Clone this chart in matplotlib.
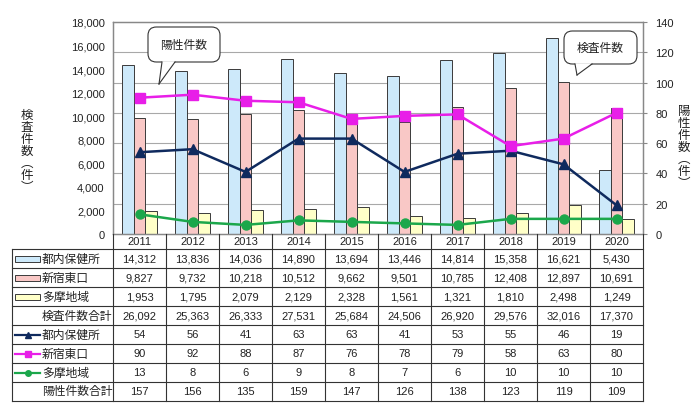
import numpy as np
import matplotlib.pyplot as plt
from matplotlib.patches import FancyBboxPatch, Polygon, Rectangle
from matplotlib.lines import Line2D
from matplotlib.ticker import FuncFormatter

plt.rcParams['font.family'] = ['Liberation Sans', 'Noto Sans CJK JP']

years = ['2011', '2012', '2013', '2014', '2015', '2016', '2017', '2018', '2019', '2020']

# 検査件数
tests_tonai = [14312, 13836, 14036, 14890, 13694, 13446, 14814, 15358, 16621, 5430]
tests_shinjuku = [9827, 9732, 10218, 10512, 9662, 9501, 10785, 12408, 12897, 10691]
tests_tama = [1953, 1795, 2079, 2129, 2328, 1561, 1321, 1810, 2498, 1249]
tests_total = [26092, 25363, 26333, 27531, 25684, 24506, 26920, 29576, 32016, 17370]

# 陽性件数
pos_tonai = [54, 56, 41, 63, 63, 41, 53, 55, 46, 19]
pos_shinjuku = [90, 92, 88, 87, 76, 78, 79, 58, 63, 80]
pos_tama = [13, 8, 6, 9, 8, 7, 6, 10, 10, 10]
pos_total = [157, 156, 135, 159, 147, 126, 138, 123, 119, 109]

c_blue = '#cde9fa'
c_pink = '#f9c8c6'
c_yellow = '#ffffc8'
c_navy = '#0f2a5e'
c_mag = '#e81ee8'
c_green = '#1ba74b'
edge = '#3a3a3a'

W, H = 700, 410


def fx(x):
    return x / W


def fy(y):
    return 1 - y / H


fig = plt.figure(figsize=(7, 4.1), dpi=100)
ax = fig.add_axes([fx(113), fy(235), 530 / W, 212 / H])
ax2 = ax.twinx()

x = np.arange(len(years))
bw = 0.22
ax.bar(x - bw, tests_tonai, bw, color=c_blue, edgecolor=edge, linewidth=0.7, zorder=2)
ax.bar(x, tests_shinjuku, bw, color=c_pink, edgecolor=edge, linewidth=0.7, zorder=2)
ax.bar(x + bw, tests_tama, bw, color=c_yellow, edgecolor=edge, linewidth=0.7, zorder=2)

ax.set_xlim(-0.5, len(years) - 0.5)
ax.set_ylim(0, 18000)
ax.set_yticks(range(0, 18001, 2000))
ax.yaxis.set_major_formatter(FuncFormatter(lambda v, p: f'{int(v):,}'))
ax.set_xticks([])
ax.tick_params(axis='y', labelsize=8, length=0, pad=6, colors='#222222')

ax2.plot(x, pos_tonai, color=c_navy, lw=1.8, marker='^', ms=6.5)
ax2.plot(x, pos_shinjuku, color=c_mag, lw=1.8, marker='s', ms=6.5)
ax2.plot(x, pos_tama, color=c_green, lw=1.8, marker='o', ms=6.5)
ax2.set_ylim(0, 140)
ax2.set_yticks(range(0, 141, 20))
ax2.tick_params(axis='y', labelsize=8, length=3, pad=6, color='#888888', labelcolor='#222222')

# gridlines follow the right axis, behind the bars
for v in range(20, 140, 20):
    ax.axhline(v * 18000 / 140, color='#a8a8a8', lw=0.8, zorder=0)

for a in (ax, ax2):
    for s in a.spines.values():
        s.set_color('#888888')
        s.set_linewidth(0.9)

# axis titles (vertical)
fig.text(fx(27), fy(152), '検\n査\n件\n数\n︵\n件\n︶', ha='center', va='center',
         fontsize=9, linespacing=1.0, color='#222222')
fig.text(fx(684), fy(148), '陽\n性\n件\n数\n︵\n件\n︶', ha='center', va='center',
         fontsize=9, linespacing=1.0, color='#222222')


def callout(x0, y0, x1, y1, bl, br, tip, text):
    box = FancyBboxPatch((fx(x0), fy(y1)), (x1 - x0) / W, (y1 - y0) / H,
                         boxstyle='round,pad=0,rounding_size=0.012',
                         mutation_aspect=W / H,
                         transform=fig.transFigure, fc='white', ec='#333333', lw=0.8, zorder=5)
    fig.add_artist(box)
    tri = Polygon([(fx(bl), fy(y1 - 0.8)), (fx(tip[0]), fy(tip[1])), (fx(br), fy(y1 - 0.8))],
                  closed=True, transform=fig.transFigure, fc='white', ec='none', zorder=6)
    fig.add_artist(tri)
    for bx in (bl, br):
        fig.add_artist(Line2D([fx(bx), fx(tip[0])], [fy(y1), fy(tip[1])],
                              transform=fig.transFigure, color='#333333', lw=0.8, zorder=7))
    fig.text(fx((x0 + x1) / 2), fy((y0 + y1) / 2), text, ha='center', va='center',
             fontsize=8.5, color='#222222', zorder=8)


callout(148, 28, 220, 63, 162, 175, (159, 85), '陽性件数')
callout(564, 32, 637, 65, 575, 592, (577, 76), '検査件数')

# data table under the chart
col_left = 113
col_w = 53
tbl_left = 12
head_top = 235
row_top = 250
row_h = 19
line_c = '#333333'

rows = [
    ('bar', c_blue, '都内保健所', tests_tonai),
    ('bar', c_pink, '新宿東口', tests_shinjuku),
    ('bar', c_yellow, '多摩地域', tests_tama),
    (None, None, '検査件数合計', tests_total),
    (('^', c_navy), None, '都内保健所', pos_tonai),
    (('s', c_mag), None, '新宿東口', pos_shinjuku),
    (('o', c_green), None, '多摩地域', pos_tama),
    (None, None, '陽性件数合計', pos_total),
]

n = len(years)
right = col_left + col_w * n
bottom = row_top + row_h * len(rows)

for k in range(len(rows) + 1):
    yy = row_top + row_h * k
    fig.add_artist(Line2D([fx(tbl_left), fx(right)], [fy(yy), fy(yy)],
                          transform=fig.transFigure, color=line_c, lw=0.8))
fig.add_artist(Line2D([fx(tbl_left), fx(tbl_left)], [fy(row_top), fy(bottom)],
                      transform=fig.transFigure, color=line_c, lw=0.8))
for i in range(n + 1):
    xx = col_left + col_w * i
    fig.add_artist(Line2D([fx(xx), fx(xx)], [fy(head_top), fy(bottom)],
                          transform=fig.transFigure, color=line_c, lw=0.8))

for i, yr in enumerate(years):
    fig.text(fx(col_left + col_w * (i + 0.5)), fy((head_top + row_top) / 2), yr,
             ha='center', va='center', fontsize=8, color='#222222')

for k, (kind, col, label, vals) in enumerate(rows):
    yc = row_top + row_h * (k + 0.5)
    if kind == 'bar':
        fig.add_artist(Rectangle((fx(15), fy(yc + 3)), 25 / W, 6 / H, transform=fig.transFigure,
                                 fc=col, ec=edge, lw=0.7))
    elif kind is not None:
        mk, lc = kind
        fig.add_artist(Line2D([fx(15), fx(40)], [fy(yc), fy(yc)], transform=fig.transFigure,
                              color=lc, lw=1.6))
        fig.add_artist(Line2D([fx(27.5)], [fy(yc)], transform=fig.transFigure,
                              color=lc, marker=mk, ms=4))
    fig.text(fx(42), fy(yc), label, ha='left', va='center', fontsize=8.5, color='#222222')
    for i, v in enumerate(vals):
        fig.text(fx(col_left + col_w * (i + 0.5)), fy(yc), f'{v:,}', ha='center', va='center',
                 fontsize=8, color='#222222')

fig.savefig('out.png', dpi=100)
